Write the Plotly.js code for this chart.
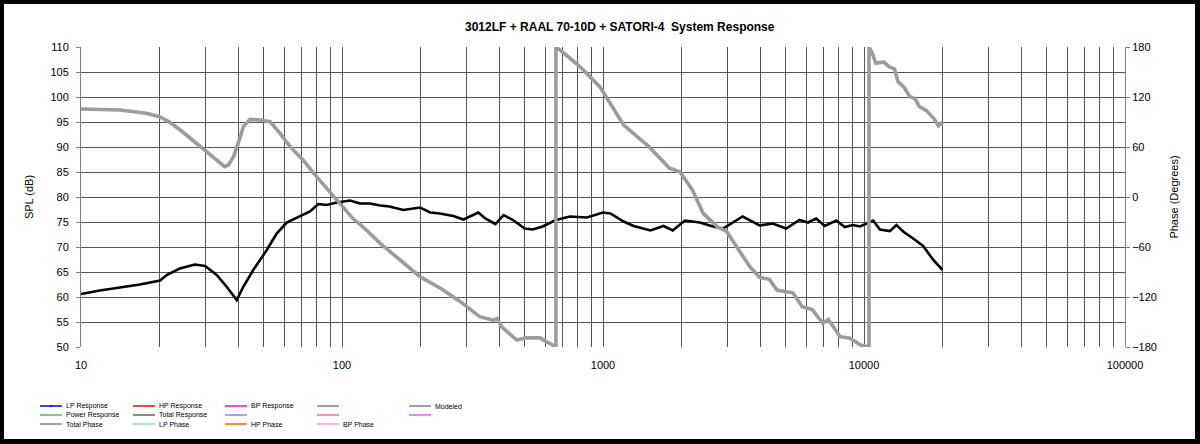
<!DOCTYPE html>
<html>
<head>
<meta charset="utf-8">
<script src="https://cdn.plot.ly/plotly-3.0.1.min.js"></script>
<style>
html,body{margin:0;padding:0;background:#fff;}
#wrap{width:1200px;height:444px;box-sizing:border-box;border-style:solid;border-color:#000;border-width:4px 5px 5px 4px;background:#fff;}
#chart{width:1191px;height:435px;}
</style>
</head>
<body>
<div id="wrap"><div id="chart"></div></div>
<script>
// Total Response (SPL, dB) vs frequency (Hz)
const splFreq = [10,11.8,14.1,16.8,20.1,21.3,23.9,27.3,29.9,33.1,36.1,39.5,41.9,45.7,51.5,56.2,61.4,69.1,75.4,81.1,87.4,95.5,107.4,117.3,128,140,152,172,199,218,237,267,292,309,333,354,387,416,452,501,538,587,660,747,867,1000,1067,1200,1310,1520,1705,1850,2060,2350,2640,2880,3430,3980,4470,5030,5660,6100,6560,7070,7830,8440,9070,9660,10260,10850,11500,12570,13320,14120,15420,16850,18430,20000];
const splValues = [60.6,61.3,61.9,62.5,63.3,64.4,65.7,66.5,66.2,64.4,62.1,59.4,62.1,65.4,69.4,72.7,74.9,76.1,77.1,78.6,78.4,78.9,79.3,78.7,78.7,78.3,78.1,77.4,77.9,76.9,76.7,76.2,75.5,76.1,76.9,75.7,74.6,76.4,75.4,73.7,73.5,74.1,75.4,76.1,75.9,76.9,76.7,75.1,74.2,73.3,74.2,73.3,75.3,74.9,74.1,73.7,76.1,74.3,74.7,73.7,75.4,74.9,75.7,74.2,75.3,74.0,74.4,74.1,74.7,75.3,73.5,73.2,74.4,73.1,71.7,70.2,67.4,65.4];

// Total Phase (degrees) vs frequency (Hz)
const phaseFreq = [10,14.1,17.8,20,21.9,24,28.2,31.8,33,35.5,36.7,38.4,40,41.9,44.4,48.5,53,57.9,63.3,70.9,79.9,89.7,98.1,110,124,140,167,199,240,284,337,380,392,410,467,510,573,643,660,660,685,816,972,1200,1500,1800,1970,2200,2420,2740,2980,3250,3650,3980,4340,4640,5340,5800,6330,6950,7300,8100,8850,9700,10450,10450,10700,11100,11900,12500,13100,13500,14200,15000,15700,16300,17300,18500,19300,20000];
const phaseValues = [105.6,104.4,100.4,96.4,89.6,80.4,62.4,48.4,45,36.4,38.4,48.4,64.4,84.4,93.2,92.4,90.4,76.4,60.4,44.4,24.4,6.4,-7.6,-25.6,-39.6,-55.6,-75.6,-95.6,-110,-125.6,-143.6,-148,-146,-156,-171.6,-169,-169,-177.6,-180,180,176.4,156.4,132.4,86.4,60.4,34.4,30.4,8.4,-19.6,-35.6,-41.6,-59.6,-83.6,-96.4,-98.8,-111.6,-115,-131.6,-135,-151.6,-147,-167.6,-169.6,-177.6,-180,180,174.4,160.4,162,156.4,153.6,138.4,132,120.4,118,108.4,104,94.4,85.2,90];

// Axis ticks
const xMajor = [10,100,1000,10000,100000];
const xMajorLabels = ['10','100','1000','10000','100000'];
const splTicks = [50,55,60,65,70,75,80,85,90,95,100,105,110];
const phaseTicks = [-180,-120,-60,0,60,120,180];

// Legend entries (rows of five columns)
const legendNames = [
  'LP Response','HP Response','BP Response','','Modeled',
  'Power Response','Total Response','','','',
  'Total Phase','LP Phase','HP Phase','BP Phase'
];
const legendColors = [
  '#0000ff','#ff0000','#ff00ff','#808080','#808080',
  '#55bb55','#606060','#8080ff','#ff7070','#ff55ff',
  '#888888','#99ccff','#ff6600','#ff99cc'
];

const titleText = '3012LF + RAAL 70-10D + SATORI-4  System Response';

// build full-grid tick list for log x axis
const xGrid = [];
const xGridText = [];
for (let d = 10; d <= 100000; d *= 10) {
  for (let m = 1; m <= 9; m++) {
    const v = d * m;
    if (v > 100000) break;
    xGrid.push(v);
    const idx = xMajor.indexOf(v);
    xGridText.push(idx >= 0 ? xMajorLabels[idx] : '');
  }
}

const FONT = 'Liberation Sans, Arial, sans-serif';
const gridCol = '#555555';

const traces = [
  {x: splFreq, y: splValues, type: 'scatter', mode: 'lines', name: 'Total Response',
   line: {color: '#000000', width: 2.6}, yaxis: 'y', showlegend: false},
  {x: phaseFreq, y: phaseValues, type: 'scatter', mode: 'lines', name: 'Total Phase',
   line: {color: '#9c9c9c', width: 3.6}, yaxis: 'y2', showlegend: false}
];

// plot area in image pixels (for legend placement)
const PL = 81, PR = 1125, PT = 47, PB = 347;
const px = v => (v - PL) / (PR - PL);
const py = v => (PB - v) / (PB - PT);
const colX = [40, 133, 225, 317, 409];
const rowY = [406, 415, 424];

const shapes = [];
const annotations = [];
legendNames.forEach((nm, i) => {
  const r = Math.floor(i / 5), c = i % 5;
  const x0 = colX[c], y = rowY[r];
  shapes.push({type: 'line', xref: 'paper', yref: 'paper',
    x0: px(x0), x1: px(x0 + 22), y0: py(y), y1: py(y),
    line: {color: legendColors[i], width: 1.5}});
  if (i === 0) {
    shapes.push({type: 'circle', xref: 'paper', yref: 'paper',
      x0: px(x0 + 10), x1: px(x0 + 12), y0: py(y + 1), y1: py(y - 1),
      fillcolor: '#0000ff', line: {color: '#0000ff', width: 0}});
  }
  if (nm) {
    annotations.push({xref: 'paper', yref: 'paper', x: px(x0 + 24), y: py(y),
      xanchor: 'left', yanchor: 'middle', showarrow: false, text: nm,
      font: {family: FONT, size: 7, color: '#000'}});
  }
});

const layout = {
  width: 1191, height: 435,
  margin: {l: 77, r: 70, t: 43, b: 92, pad: 0},
  paper_bgcolor: '#ffffff', plot_bgcolor: '#ffffff',
  font: {family: FONT, size: 11, color: '#000'},
  showlegend: false,
  title: {text: '<b>' + titleText + '</b>', font: {family: FONT, size: 12, color: '#000'},
    xref: 'container', x: 0.517, xanchor: 'center', yref: 'container', y: 0.948, yanchor: 'middle'},
  xaxis: {type: 'log', range: [1, 5], tickmode: 'array', tickvals: xGrid, ticktext: xGridText,
    showgrid: true, gridcolor: gridCol, gridwidth: 1, ticks: '', zeroline: false,
    showline: false, ticklabelstandoff: 10, tickfont: {family: FONT, size: 11, color: '#000'}},
  yaxis: {range: [50, 110], tickmode: 'array', tickvals: splTicks, showgrid: true,
    gridcolor: gridCol, gridwidth: 1, zeroline: false, showline: true, linecolor: '#808080',
    linewidth: 1, ticks: 'outside', ticklen: 4, tickcolor: '#808080', ticklabelstandoff: 5,
    title: {text: 'SPL (dB)', font: {family: FONT, size: 11}, standoff: 14},
    tickfont: {family: FONT, size: 11, color: '#000'}},
  yaxis2: {range: [-180, 180], overlaying: 'y', side: 'right', tickmode: 'array', tickvals: phaseTicks,
    showgrid: false, zeroline: false, showline: true, linecolor: '#808080', linewidth: 1,
    ticks: 'outside', ticklen: 4, tickcolor: '#808080',
    title: {text: 'Phase (Degrees)', font: {family: FONT, size: 11}, standoff: 14},
    tickfont: {family: FONT, size: 11, color: '#000'}},
  shapes: shapes,
  annotations: annotations
};

Plotly.newPlot('chart', traces, layout, {displayModeBar: false, staticPlot: true});
</script>
</body>
</html>
